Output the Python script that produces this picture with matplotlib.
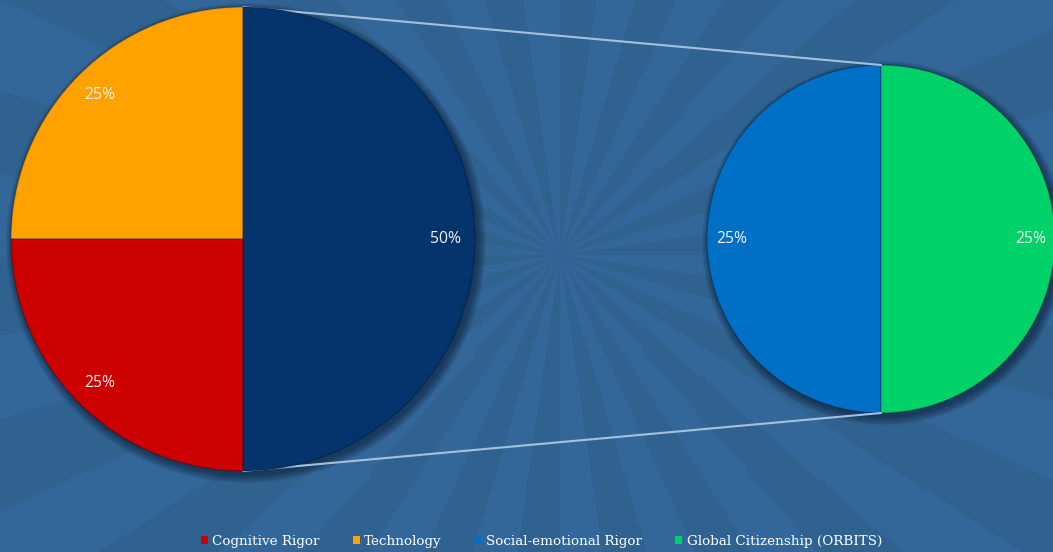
import numpy as np
import matplotlib
matplotlib.use("Agg")
import matplotlib.pyplot as plt
from matplotlib.patches import Wedge, Circle, Patch

# data
categories = ["Cognitive Rigor", "Technology", "Social-emotional Rigor", "Global Citizenship (ORBITS)"]
values = [25, 25, 25, 25]
colors = ["#cc0000", "#ffa200", "#0070c6", "#00d26a"]
other_color = "#04346b"

W, H = 1053, 552
bg = "#33679a"
ray = "#306290"

fig = plt.figure(figsize=(W / 100, H / 100), dpi=100, facecolor=bg)
ax = fig.add_axes([0, 0, 1, 1])
ax.set_facecolor(bg)

# sunburst background
sx, sy = 560, H - 255
n_rays = 22
step = 360 / n_rays
for i in range(n_rays):
    a0 = i * step
    ax.add_patch(Wedge((sx, sy), 1600, a0, a0 + step * 0.5, facecolor=ray,
                       edgecolor="none", zorder=0))

total = sum(values)
left_center = (243, H - 239)
left_r = 232
right_center = (881, H - 239)
right_r = 174


def shadow(center, r):
    for k in range(10):
        ax.add_patch(Circle((center[0] + 3, center[1] - 4), r + k * 0.9,
                            facecolor="#0a1a30", edgecolor="none", alpha=0.07, zorder=1))


# connector lines (start behind the big pie)
line_kw = dict(color="#a3c0df", lw=1.5, zorder=1.5, solid_capstyle="round")
ax.plot([left_center[0], right_center[0]],
        [left_center[1] + left_r, right_center[1] + right_r], **line_kw)
ax.plot([left_center[0], right_center[0]],
        [left_center[1] - left_r, right_center[1] - right_r], **line_kw)

shadow(left_center, left_r)
shadow(right_center, right_r)

wp = dict(edgecolor=(0, 0, 0, 0.25), linewidth=1)
txt = dict(color="#f2f2f2", fontsize=11.3, family="Open Sans")

# main pie: Technology, Cognitive Rigor, rest
left_vals = [values[1], values[0], values[2] + values[3]]
ax.pie(left_vals, colors=[colors[1], colors[0], other_color],
       startangle=90, counterclock=True, center=left_center,
       radius=left_r, frame=True, wedgeprops=wp,
       autopct=lambda p: f"{p * sum(left_vals) / total:.0f}%",
       pctdistance=0.875, textprops=txt)
for w in ax.patches[-3:]:
    w.set_zorder(2)

sub_vals = [values[2], values[3]]
ax.pie(sub_vals, colors=[colors[2], colors[3]], startangle=90,
       counterclock=True, center=right_center, radius=right_r, frame=True,
       wedgeprops=wp,
       autopct=lambda p: f"{p * sum(sub_vals) / total:.0f}%",
       pctdistance=0.86, textprops=txt)

ax.set_xlim(0, W)
ax.set_ylim(0, H)
ax.set_aspect("equal")
ax.axis("off")

handles = [Patch(facecolor=c, edgecolor="none") for c in colors]
fig.legend(handles, categories, loc="lower center", bbox_to_anchor=(0.514, -0.014),
           ncol=4, frameon=False, handlelength=0.55, handleheight=0.55,
           handletextpad=0.3, columnspacing=2.45, labelcolor="white",
           prop=dict(family="DejaVu Serif", size=9.7))

fig.savefig("out.png", dpi=100, facecolor=bg)
